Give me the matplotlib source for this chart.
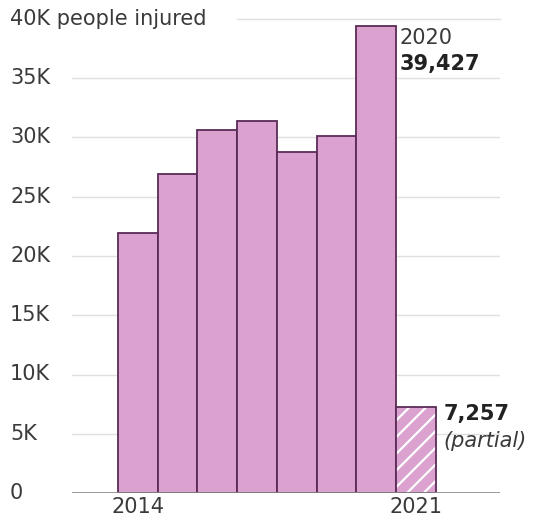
import numpy as np
import matplotlib.pyplot as plt

plt.rcParams['font.family'] = ['DejaVu Sans']

YEARS = [2014, 2015, 2016, 2017, 2018, 2019, 2020, 2021]
INJURED = [21900, 26900, 30600, 31400, 28800, 30100, 39427, 7257]
Y_TICKS = [0, 5000, 10000, 15000, 20000, 25000, 30000, 35000, 40000]
Y_LABELS = ['0', '5K', '10K', '15K', '20K', '25K', '30K', '35K', '40K people injured']

FILL = '#dba2d0'
EDGE = '#5b2b57'
TEXT = '#3a3a3a'
FS = 15

fig = plt.figure(figsize=(5.36, 5.23), dpi=100)
ax = fig.add_axes([72 / 536, 1 - 493 / 523, 428 / 536, 474 / 523])

# full years
ax.bar(YEARS[:-1], INJURED[:-1], width=1.0, color=FILL, edgecolor=EDGE,
       linewidth=1.3, zorder=3)
# partial year: white hatch, then outline on top
plt.rcParams['hatch.linewidth'] = 1.6
ax.bar(YEARS[-1], INJURED[-1], width=1.0, color=FILL, edgecolor='white',
       linewidth=0, hatch='//', zorder=3)
ax.bar(YEARS[-1], INJURED[-1], width=1.0, fill=False, edgecolor=EDGE,
       linewidth=1.3, zorder=4)

ax.set_xlim(2012.34, 2023.12)
ax.set_ylim(0, 40000)

# gridlines
for y in Y_TICKS[1:-1]:
    ax.axhline(y, color='#e0e0e0', linewidth=1, zorder=1)
ax.plot([0.385, 1], [1, 1], transform=ax.transAxes, color='#e0e0e0',
        linewidth=1, clip_on=False, zorder=1)
ax.axhline(0, color='#888888', linewidth=1.2, zorder=5)

for s in ax.spines.values():
    s.set_visible(False)
ax.tick_params(length=0)
ax.set_yticks([])
for y, lab in zip(Y_TICKS, Y_LABELS):
    ax.text(10 / 536, ax.transData.transform((0, y))[1] / 523, lab,
            transform=fig.transFigure, ha='left', va='center',
            fontsize=FS, color=TEXT)

ax.set_xticks([YEARS[0], YEARS[-1]])
ax.set_xticklabels([str(YEARS[0]), str(YEARS[-1])], fontsize=FS, color=TEXT)
ax.tick_params(axis='x', pad=3)

ax.text(2020.6, 39427 - 1000, '2020', ha='left', va='center', fontsize=FS, color=TEXT)
ax.text(2020.6, 39427 - 3200, f'{INJURED[6]:,}', ha='left', va='center',
        fontsize=FS, fontweight='bold', color='#222222')
ax.text(2021.7, INJURED[7] - 600, f'{INJURED[7]:,}', ha='left', va='center',
        fontsize=FS, fontweight='bold', color='#222222')
ax.text(2021.7, INJURED[7] - 2900, '(partial)', ha='left', va='center',
        fontsize=FS, fontstyle='italic', color=TEXT)

fig.savefig('out.png', dpi=100)
